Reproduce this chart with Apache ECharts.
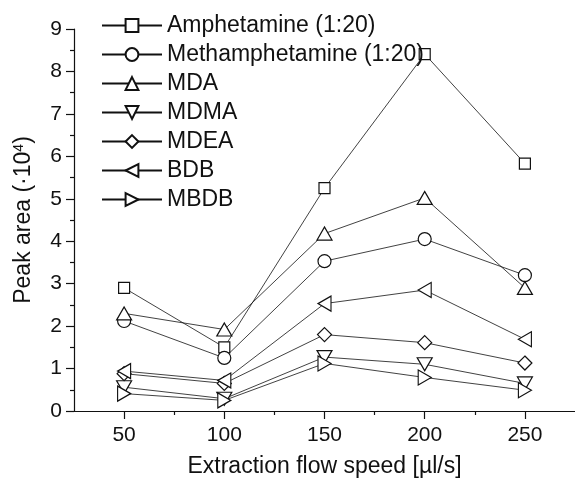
<!DOCTYPE html>
<html>
<head>
<meta charset="utf-8">
<script src="https://cdn.jsdelivr.net/npm/echarts@6/dist/echarts.min.js"></script>
<style>
  html, body { margin: 0; padding: 0; background: #fff; }
  #chart { width: 575px; height: 485px; }
</style>
</head>
<body>
<div id="chart"></div>
<script>
// Extraction flow speed (µl/s)
const speeds = [50, 100, 150, 200, 250];

// Peak areas (x 10^4)
const amphetamine     = [2.90, 1.50, 5.25, 8.41, 5.83];
const methamphetamine = [2.12, 1.25, 3.53, 4.05, 3.20];
const mda             = [2.30, 1.92, 4.18, 5.02, 2.90];
const mdma            = [0.56, 0.29, 1.27, 1.10, 0.65];
const mdea            = [0.88, 0.65, 1.80, 1.61, 1.13];
const bdb             = [0.94, 0.72, 2.53, 2.85, 1.69];
const mbdb            = [0.41, 0.25, 1.12, 0.79, 0.49];

const seriesNames = ['Amphetamine (1:20)', 'Methamphetamine (1:20)', 'MDA', 'MDMA', 'MDEA', 'BDB', 'MBDB'];
const seriesValues = [amphetamine, methamphetamine, mda, mdma, mdea, bdb, mbdb];

const xMajorTicks = [50, 100, 150, 200, 250];
const xMinorTicks = [75, 125, 175, 225];
const yMajorTicks = [0, 1, 2, 3, 4, 5, 6, 7, 8, 9];
const yMinorTicks = [0.5, 1.5, 2.5, 3.5, 4.5, 5.5, 6.5, 7.5, 8.5];

const FONT = '"Liberation Sans", Arial, sans-serif';
const INK = '#111';

// marker shape, rotation and size per series
const markers = [
  { symbol: 'rect',     rotate: 0,   size: [11, 11] },
  { symbol: 'circle',   rotate: 0,   size: [13, 13] },
  { symbol: 'triangle', rotate: 0,   size: [15, 13] },
  { symbol: 'triangle', rotate: 180, size: [15, 13] },
  { symbol: 'diamond',  rotate: 0,   size: [14, 14] },
  { symbol: 'triangle', rotate: 90,  size: [15, 13] },
  { symbol: 'triangle', rotate: -90, size: [15, 13] }
];

const series = seriesNames.map((name, i) => ({
  name: name,
  type: 'line',
  xAxisIndex: 0,
  yAxisIndex: 0,
  data: speeds.map((s, j) => [s, seriesValues[i][j]]),
  symbol: markers[i].symbol,
  symbolRotate: markers[i].rotate,
  symbolSize: markers[i].size,
  showAllSymbol: true,
  lineStyle: { color: INK, width: 0.8 },
  itemStyle: { color: '#fff', borderColor: INK, borderWidth: 1.2 },
  emphasis: { disabled: true },
  z: 2
}));

const axisBase = {
  type: 'value',
  splitLine: { show: false },
  minorTick: { show: false }
};

const option = {
  animation: false,
  backgroundColor: '#fff',
  textStyle: { fontFamily: FONT },
  grid: { left: 74, top: 29, right: -8, bottom: 74, containLabel: false },
  legend: {
    orient: 'vertical',
    left: 96,
    top: 6,
    itemWidth: 60,
    itemHeight: 16,
    itemGap: 0,
    data: seriesNames,
    textStyle: { fontFamily: FONT, fontSize: 23, color: INK, lineHeight: 29 },
    inactiveColor: INK
  },
  xAxis: [
    Object.assign({}, axisBase, {
      min: 25, max: 275, interval: 25,
      position: 'bottom',
      axisLine: { show: true, onZero: false, lineStyle: { color: INK, width: 1.2 } },
      axisTick: { show: true, inside: false, length: 8, customValues: xMajorTicks, lineStyle: { color: INK, width: 1.2 } },
      axisLabel: { show: true, margin: 14, customValues: xMajorTicks, fontFamily: FONT, fontSize: 21, color: INK },
      name: 'Extraction flow speed [µl/s]',
      nameLocation: 'middle',
      nameGap: 44,
      nameTextStyle: { fontFamily: FONT, fontSize: 23, color: INK }
    }),
    Object.assign({}, axisBase, {
      min: 25, max: 275, interval: 25,
      position: 'bottom',
      axisLine: { show: false, onZero: false },
      axisTick: { show: true, inside: false, length: 4, customValues: xMinorTicks, lineStyle: { color: INK, width: 1.2 } },
      axisLabel: { show: false }
    })
  ],
  yAxis: [
    Object.assign({}, axisBase, {
      min: 0, max: 9, interval: 1,
      position: 'left',
      axisLine: { show: true, onZero: false, lineStyle: { color: INK, width: 1.2 } },
      axisTick: { show: true, inside: false, length: 8, customValues: yMajorTicks, lineStyle: { color: INK, width: 1.2 } },
      axisLabel: { show: true, margin: 12, customValues: yMajorTicks, fontFamily: FONT, fontSize: 21, color: INK },
      name: 'Peak area (·10{sup|4})',
      nameLocation: 'middle',
      nameGap: 38,
      nameRotate: 90,
      nameTextStyle: {
        fontFamily: FONT, fontSize: 23, color: INK,
        rich: { sup: { fontFamily: FONT, fontSize: 14, color: INK, verticalAlign: 'top', padding: [0, 0, 10, 0] } }
      }
    }),
    Object.assign({}, axisBase, {
      min: 0, max: 9, interval: 1,
      position: 'left',
      axisLine: { show: false, onZero: false },
      axisTick: { show: true, inside: false, length: 4, customValues: yMinorTicks, lineStyle: { color: INK, width: 1.2 } },
      axisLabel: { show: false }
    })
  ],
  series: series
};

const chart = echarts.init(document.getElementById('chart'), null, { renderer: 'canvas' });
chart.setOption(option);
</script>
</body>
</html>
